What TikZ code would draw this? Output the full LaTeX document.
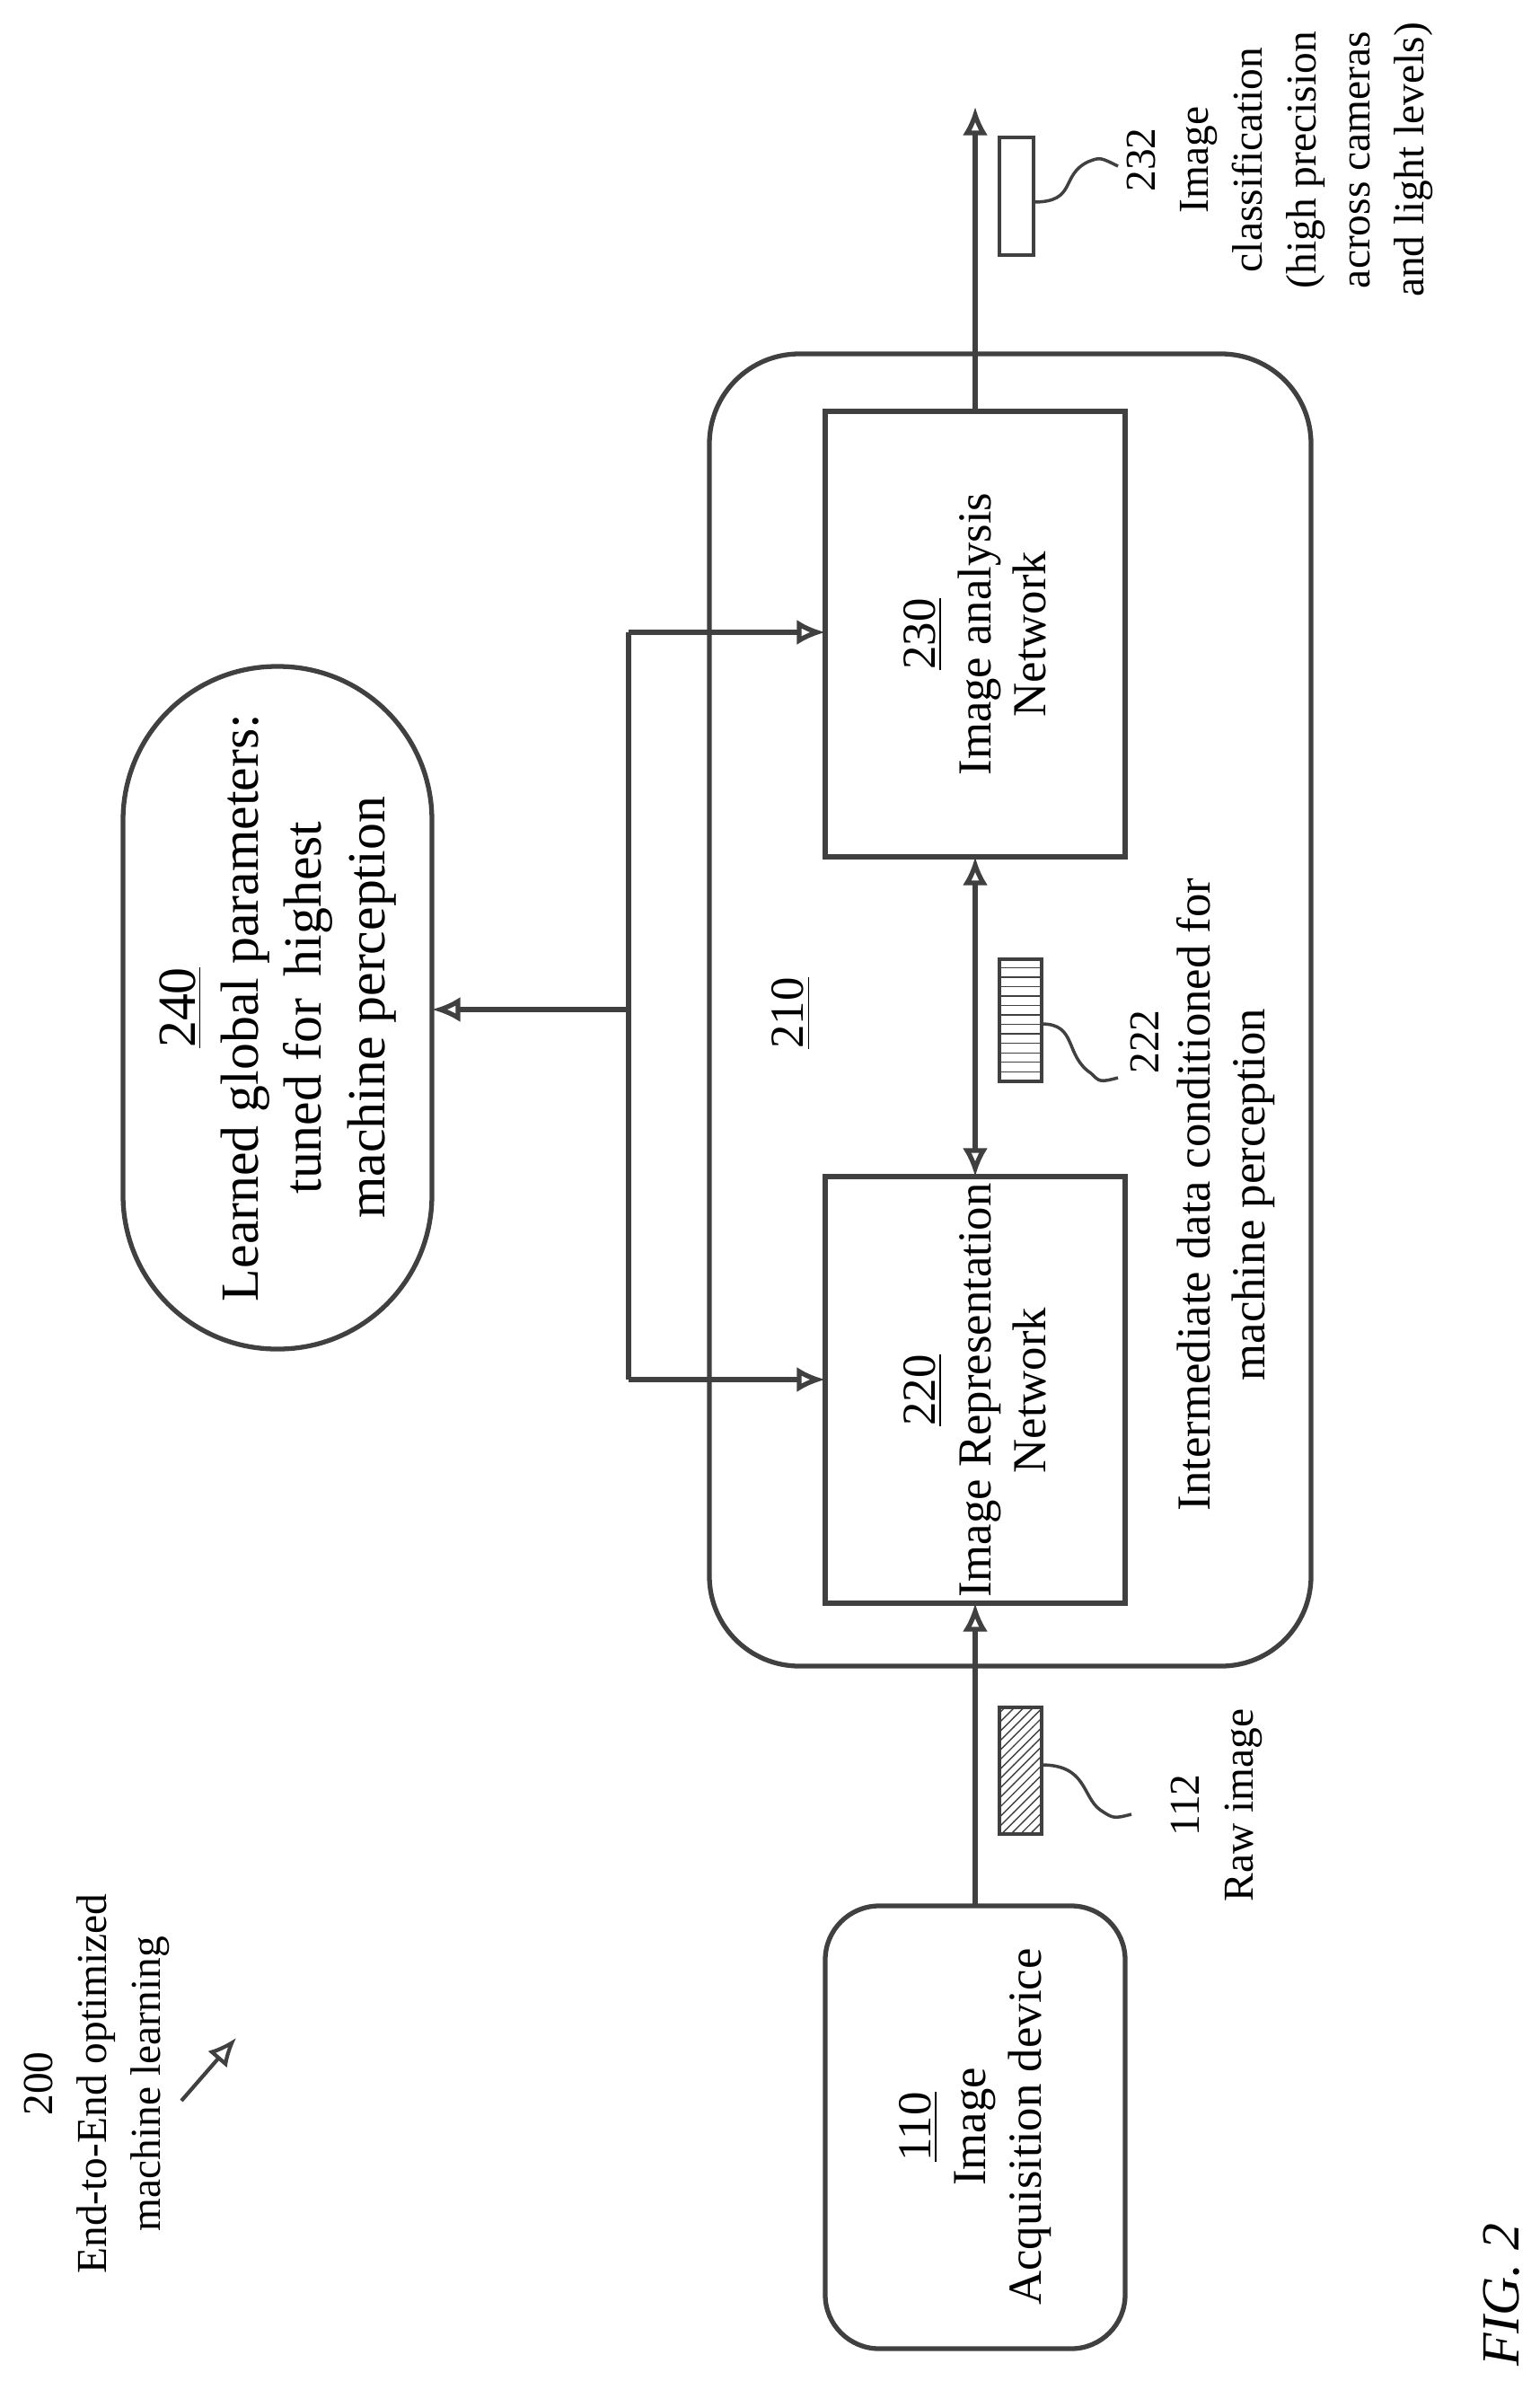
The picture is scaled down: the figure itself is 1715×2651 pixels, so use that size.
\documentclass[tikz,border=0pt]{standalone}
\usepackage{fontspec}
\setmainfont{Liberation Serif}
\usetikzlibrary{arrows.meta,patterns}
\begin{document}
\begin{tikzpicture}[x=0.01cm,y=-0.01cm,
  ln/.style={draw=black!75,line width=1.5pt},
  arr/.style={ln,-{Latex[open,length=9pt,width=8pt]}},
  darr/.style={ln,{Latex[open,length=9pt,width=8pt]}-{Latex[open,length=9pt,width=8pt]}},
  txt/.style={rotate=90,align=center,font=\fontsize{15}{17.5}\selectfont}]
\useasboundingbox (0,0) rectangle (1715,2651);
% outer 210
\draw[ln,rounded corners=1cm] (790,394) rectangle (1460,1855);
\node[font=\fontsize{15}{18}\selectfont,rotate=90] (l210) at (881,1128) {\underline{210}};
% boxes
\draw[ln] (919,458) rectangle (1253,954);
\node[txt] (b230) at (1086,706) {\underline{230}\\Image analysis\\Network};
\draw[ln] (919,1310) rectangle (1253,1785);
\node[txt] (b220) at (1086,1548) {\underline{220}\\Image Representation\\Network};
\draw[ln,rounded corners=0.6cm] (919,2122) rectangle (1253,2615);
\node[txt] (b110) at (1086,2368) {\underline{110}\\Image\\Acquisition device};
% 240 stadium
\draw[ln,rounded corners=1.71cm] (137,742) rectangle (481,1502);
\node[txt,font=\fontsize{17}{20}\selectfont] (b240) at (309,1122) {\underline{240}\\Learned global parameters:\\tuned for\, highest\\machine perception};
% coordinates
\coordinate (a110) at (1086,2122);
\coordinate (a220b) at (1086,1785);
\coordinate (a220t) at (1086,1310);
\coordinate (a230b) at (1086,954);
\coordinate (a230t) at (1086,458);
\coordinate (out) at (1086,119);
\coordinate (fbT) at (700,704);
\coordinate (fbB) at (700,1536);
\coordinate (e230) at (919,704);
\coordinate (e220) at (919,1536);
\coordinate (fbM) at (700,1124);
\coordinate (e240) at (481,1124);
\draw[arr] (a110) -- (a220b);
\draw[darr] (a230b) -- (a220t);
\draw[arr] (a230t) -- (out);
\draw[arr] (fbT) -- (e230);
\draw[arr] (fbB) -- (e220);
\draw[ln] (fbT) -- (fbB);
\draw[arr] (fbM) -- (e240);
% 232
\draw[ln,line width=1.2pt] (1113,153) rectangle (1151,284);
\draw[black!75,line width=1pt] (1151,225) .. controls (1200,225) and (1180,195) .. (1212,180) .. controls (1225,175) .. (1245,185);
\node[txt,font=\fontsize{13.5}{17}\selectfont] (t232) at (1425,178) {232\\Image\\classification\\(high precision\\across cameras\\and light levels)};
% 222
\draw[ln,line width=1.2pt,pattern=horizontal lines,pattern color=black!75] (1113,1068) rectangle (1160,1204);
\draw[black!75,line width=1pt] (1160,1140) .. controls (1200,1140) and (1185,1175) .. (1215,1195) .. controls (1225,1205) .. (1245,1200);
\node[txt,font=\fontsize{13.5}{17}\selectfont] (t222) at (1275,1160) {222};
\node[txt] (tint) at (1365,1330) {Intermediate data conditioned for\\machine perception};
% 112
\draw[ln,line width=1.2pt,pattern=north east lines,pattern color=black!75] (1113,1901) rectangle (1160,2042);
\draw[black!75,line width=1pt] (1160,1965) .. controls (1210,1965) and (1205,2000) .. (1225,2015) .. controls (1240,2025) .. (1260,2020);
\node[txt,font=\fontsize{13.5}{17}\selectfont] (t112) at (1355,2010) {112\\Raw image};
% 200
\node[txt,font=\fontsize{13.5}{17}\selectfont] (t200) at (108,2320) {200\\End-to-End optimized\\machine learning};
\coordinate (s200) at (202,2339);
\coordinate (e200) at (263,2269);
\draw[arr,line width=1.2pt] (s200) -- (e200);
% fig
\node[rotate=90,font=\fontsize{17}{20}\selectfont\itshape] (fig) at (1672,2555) {FIG. 2};
\end{tikzpicture}
\end{document}
